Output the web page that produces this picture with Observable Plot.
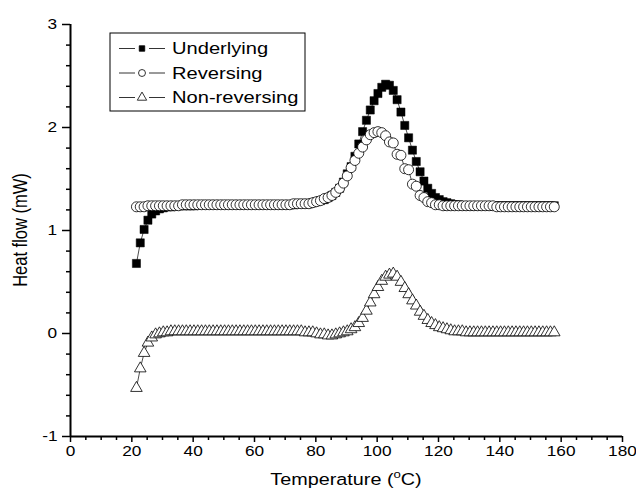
<!DOCTYPE html>
<html><head><meta charset="utf-8">
<script src="https://cdn.jsdelivr.net/npm/d3@7"></script>
<script src="https://cdn.jsdelivr.net/npm/@observablehq/plot@0.6"></script>
<style>body{margin:0;background:#fff} svg{font-family:Arial,"Liberation Sans",sans-serif}</style>
</head><body><div id="chart"></div>
<script>
const temperature = [21.5,22.75,24,25.25,26.5,27.75,29,30.25,31.5,32.75,34,35.25,36.5,37.75,39,40.25,41.5,42.75,44,45.25,46.5,47.75,49,50.25,51.5,52.75,54,55.25,56.5,57.75,59,60.25,61.5,62.75,64,65.25,66.5,67.75,69,70.25,71.5,72.75,74,75.25,76.5,77.75,79,80.25,81.5,82.75,84,85.25,86.5,87.75,89,90.25,91.5,92.75,94,95.25,96.5,97.75,99,100.25,101.5,102.75,104,105.25,106.5,107.75,109,110.25,111.5,112.75,114,115.25,116.5,117.75,119,120.25,121.5,122.75,124,125.25,126.5,127.75,129,130.25,131.5,132.75,134,135.25,136.5,137.75,139,140.25,141.5,142.75,144,145.25,146.5,147.75,149,150.25,151.5,152.75,154,155.25,156.5,157.75];
const underlying = [0.68,0.88,1.01,1.10,1.16,1.19,1.21,1.22,1.23,1.23,
1.24,1.24,1.24,1.24,1.24,1.24,1.25,1.25,1.25,1.25,
1.25,1.25,1.25,1.25,1.25,1.25,1.25,1.25,1.25,1.25,
1.25,1.25,1.25,1.25,1.25,1.25,1.25,1.25,1.25,1.25,
1.25,1.25,1.26,1.26,1.26,1.26,
1.27,1.28,1.29,1.30,
1.32,1.34,1.37,1.41,1.47,1.55,1.62,1.72,1.84,1.96,
2.07,2.17,2.26,2.33,2.39,2.42,2.41,2.36,2.27,2.15,
2.02,1.90,1.78,1.67,1.57,1.48,1.41,1.36,1.32,1.30,
1.28,1.27,1.26,1.25,1.25,1.24,1.24,1.24,1.24,1.24,
1.24,1.24,1.24,1.24,1.24,1.24,1.24,1.24,1.24,1.24,
1.24,1.24,1.24,1.24,1.24,1.24,1.24,1.24,1.24,1.24];
const reversing = [1.23,1.23,1.23,1.24,1.24,1.24,1.24,1.24,1.24,1.24,
1.24,1.24,1.25,1.25,1.25,1.25,1.25,1.25,1.25,1.25,
1.25,1.25,1.25,1.25,1.25,1.25,1.25,1.25,1.25,1.25,
1.25,1.25,1.25,1.25,1.25,1.25,1.25,1.25,1.25,1.25,
1.25,1.26,1.26,1.26,1.26,1.26,
1.27,1.28,1.29,1.31,
1.32,1.34,1.37,1.41,1.46,1.53,1.61,1.68,1.75,1.81,
1.88,1.93,1.95,1.96,1.95,1.92,1.86,1.85,1.74,1.73,
1.60,1.59,1.45,1.43,1.34,1.32,1.28,1.27,1.25,1.25,
1.24,1.24,1.24,1.24,1.24,1.24,1.24,1.24,1.24,1.24,
1.24,1.24,1.24,1.24,1.23,1.23,1.23,1.23,1.23,1.23,
1.23,1.23,1.23,1.23,1.23,1.23,1.23,1.23,1.23,1.23];
const nonReversing = [-0.53,-0.34,-0.19,-0.09,-0.04,-0.01,0.00,0.01,0.01,0.02,
0.02,0.02,0.02,0.02,0.02,0.02,0.02,0.02,0.02,0.02,
0.02,0.02,0.02,0.02,0.02,0.02,0.02,0.02,0.02,0.02,
0.02,0.02,0.02,0.02,0.02,0.02,0.02,0.02,0.02,0.02,
0.02,0.02,0.02,0.02,0.01,0.01,
0.01,0.00,-0.01,-0.01,
-0.02,-0.02,-0.01,0.00,0.01,0.02,0.04,0.06,0.10,0.15,
0.22,0.30,0.38,0.45,0.51,0.55,0.57,0.58,0.55,0.50,
0.44,0.38,0.32,0.27,0.21,0.17,0.13,0.10,0.08,0.06,
0.05,0.04,0.03,0.02,0.02,0.02,0.01,0.01,0.01,0.01,
0.01,0.01,0.01,0.01,0.01,0.01,0.01,0.01,0.01,0.01,
0.01,0.01,0.01,0.01,0.01,0.01,0.01,0.01,0.01,0.01];
const seriesNames = ["Underlying","Reversing","Non-reversing"];
const xTicks = [0,20,40,60,80,100,120,140,160,180];
const xMinorTicks = [5,10,15,25,30,35,45,50,55,65,70,75,85,90,95,105,110,115,125,130,135,145,150,155,165,170,175];
const yTicks = [-1,0,1,2,3];
const yMinorTicks = [-0.8,-0.6,-0.4,-0.2,0.2,0.4,0.6,0.8,1.2,1.4,1.6,1.8,2.2,2.4,2.6,2.8];
const xTitle = "Temperature (";
const xTitleSup = "o";
const xTitleUnit = "C)";
const yTitle = "Heat flow (mW)";

const rows = (vals) => temperature.map((t, i) => ({t, v: vals[i]}));
const dU = rows(underlying), dR = rows(reversing), dN = rows(nonReversing);
const fmt = d => (d < 0 ? "-" + Math.abs(d) : String(d));

const W = 636, H = 500, ML = 70, MR = 14, MT = 24, MB = 64;
const plot = Plot.plot({
  width: W, height: H,
  marginLeft: ML, marginRight: MR, marginTop: MT, marginBottom: MB,
  x: {domain: [0, 180]},
  y: {domain: [-1, 3]},
  style: {fontFamily: "Arial, 'Liberation Sans', sans-serif", background: "#fff", color: "#000"},
  marks: [
    Plot.axisX(xMinorTicks, {tickSize: 4, tickFormat: () => "", stroke: "#000", strokeWidth: 1.5, label: null}),
    Plot.axisX(xTicks, {tickSize: 6, tickPadding: 3, fontSize: 15, tickFormat: fmt, stroke: "#000", strokeWidth: 1.5, label: null, fill: "#000"}),
    Plot.axisY(yMinorTicks, {tickSize: 4, tickFormat: () => "", stroke: "#000", strokeWidth: 1.5, label: null}),
    Plot.axisY(yTicks, {tickSize: 8, tickPadding: 6, fontSize: 15, tickFormat: fmt, stroke: "#000", strokeWidth: 1.5, label: null, fill: "#000"}),
    Plot.ruleX([0], {stroke: "#000", strokeWidth: 2}),
    Plot.ruleY([-1], {stroke: "#000", strokeWidth: 2}),
    Plot.line(dU, {x: "t", y: "v", stroke: "#000", strokeWidth: 0.7}),
    Plot.dot(dU, {x: "t", y: "v", symbol: "square", r: 4.6, fill: "#000", stroke: "#000", strokeWidth: 0.5}),
    Plot.line(dR, {x: "t", y: "v", stroke: "#000", strokeWidth: 0.7}),
    Plot.dot(dR, {x: "t", y: "v", symbol: "circle", r: 5, fill: "#fff", stroke: "#000", strokeWidth: 0.8}),
    Plot.line(dN, {x: "t", y: "v", stroke: "#000", strokeWidth: 0.7}),
    Plot.dot(dN, {x: "t", y: "v", symbol: "triangle", r: 4.3, fill: "#fff", stroke: "#000", strokeWidth: 0.8})
  ]
});
document.getElementById("chart").appendChild(plot);

const svg = d3.select(plot);
// widen text glyphs horizontally (the reference type is wide)
function stretch(el, s) {
  const parent = el.parentNode;
  const r = el.getBoundingClientRect();
  const m = parent.getScreenCTM();
  const cx = (r.left + r.width / 2 - m.e) / m.a;
  const g = document.createElementNS("http://www.w3.org/2000/svg", "g");
  g.setAttribute("transform", `translate(${cx},0) scale(${s},1) translate(${-cx},0)`);
  parent.insertBefore(g, el);
  g.appendChild(el);
}
svg.selectAll("g[aria-label$='tick label'] text").each(function() { if (this.textContent) stretch(this, 1.15); });

// axis titles
const xt = svg.append("text").attr("x", ML + (W - ML - MR) / 2).attr("y", 485)
  .attr("text-anchor", "middle").attr("font-size", 16.5).attr("fill", "#000")
  .call(t => { t.append("tspan").text(xTitle); t.append("tspan").attr("dy", -7).attr("font-size", 11).text(xTitleSup); t.append("tspan").attr("dy", 7).text(xTitleUnit); });
stretch(xt.node(), 1.2);
svg.append("text").attr("transform", `translate(27,${MT + (H - MT - MB) / 2}) scale(1.2,1) rotate(-90)`)
  .attr("text-anchor", "middle").attr("font-size", 16.5).attr("fill", "#000").text(yTitle);

// legend
const lg = svg.append("g");
lg.append("rect").attr("x", 110).attr("y", 33).attr("width", 195).attr("height", 78)
  .attr("fill", "#fff").attr("stroke", "#000").attr("stroke-width", 1);
const syms = [d3.symbolSquare, d3.symbolCircle, d3.symbolTriangle];
const fills = ["#000", "#fff", "#fff"];
const sizes = [30, 38, 38];
seriesNames.forEach((name, i) => {
  const cy = 48.5 + i * 24.5;
  lg.append("line").attr("x1", 119).attr("x2", 165).attr("y1", cy).attr("y2", cy).attr("stroke", "#000").attr("stroke-width", 0.8);
  lg.append("rect").attr("x", 135).attr("y", cy - 5).attr("width", 14).attr("height", 10).attr("fill", "#fff");
  lg.append("path").attr("d", d3.symbol(syms[i], sizes[i])()).attr("transform", `translate(142,${cy})`)
    .attr("fill", fills[i]).attr("stroke", "#000").attr("stroke-width", 0.8);
  const tx = lg.append("text").attr("x", 172).attr("y", cy).attr("dy", "0.36em").attr("text-anchor", "start")
    .attr("font-size", 16.5).attr("fill", "#000").text(name);
  const x0 = 172;
  tx.attr("transform", `translate(${x0},0) scale(1.22,1) translate(${-x0},0)`);
});
</script></body></html>
